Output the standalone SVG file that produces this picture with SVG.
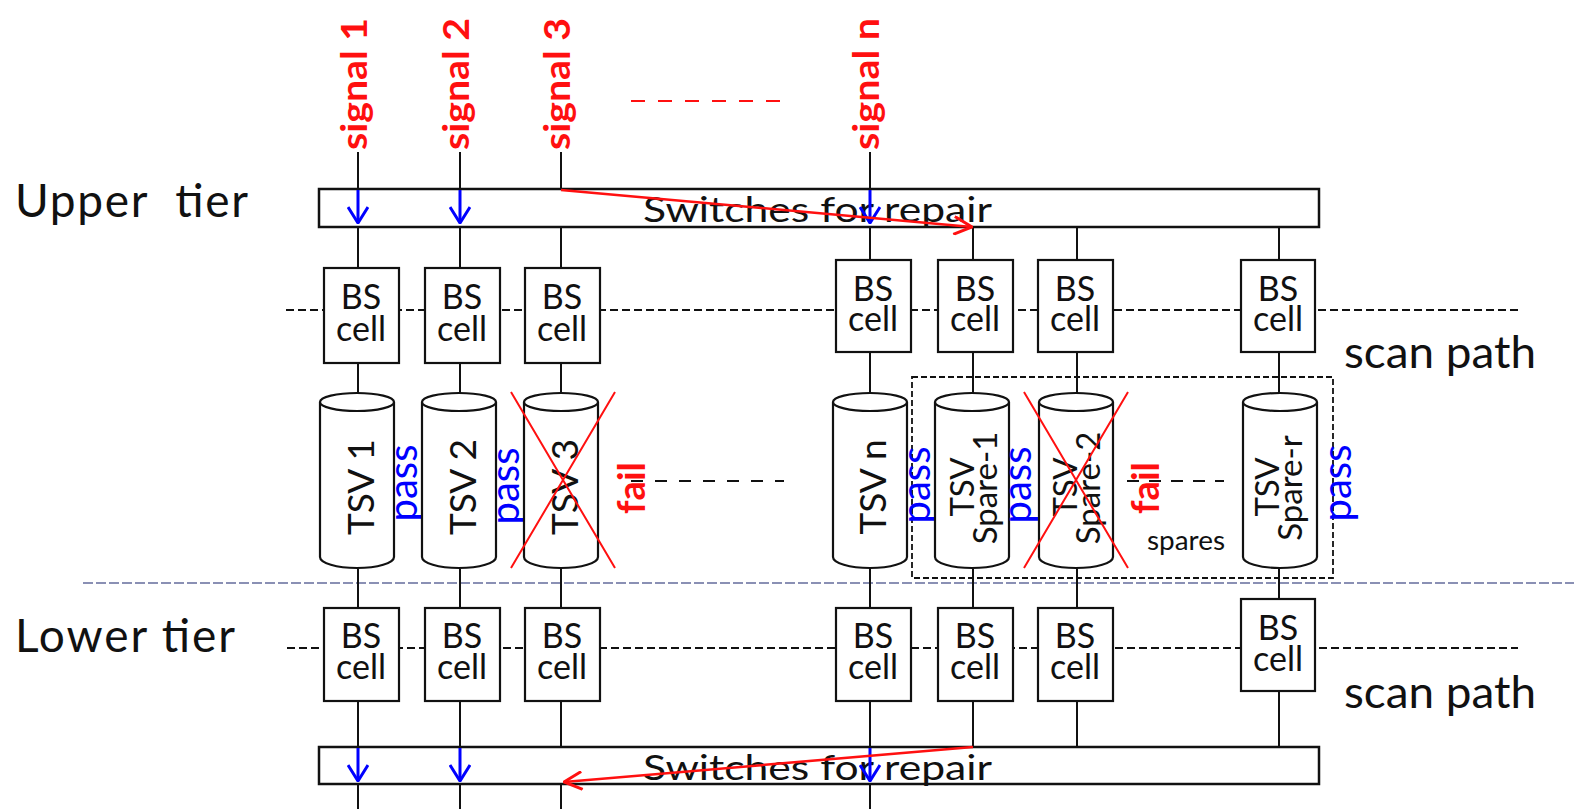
<svg xmlns="http://www.w3.org/2000/svg" width="1574" height="809" viewBox="0 0 1574 809">
<style>
text{font-family:Lato,"Open Sans","DejaVu Sans",sans-serif;fill:#111}
.box{fill:#fff;stroke:#111;stroke-width:2.5}
.cell{fill:#fff;stroke:#111;stroke-width:2.2}
.cyl{fill:#fff;stroke:#111;stroke-width:2.2}
.wire{stroke:#111;stroke-width:2;fill:none}
.scan{stroke:#111;stroke-width:2;stroke-dasharray:8 4;fill:none}
.tier{stroke:#8a90b4;stroke-width:2.2;stroke-dasharray:10 3;fill:none}
.blue{stroke:#0000ff;stroke-width:3;fill:none}
.red{stroke:#ff1010;stroke-width:2.5;fill:none}
.redx{stroke:#ff1010;stroke-width:2;fill:none}
.bs{font-size:34px;text-anchor:middle}
.tsv{font-size:37px;text-anchor:middle}
.tsv2{font-size:33px;text-anchor:middle}
.pass{font-size:40px;fill:#0000ff;text-anchor:middle}
.fail{font-size:38px;font-weight:bold;fill:#ff1010;text-anchor:middle}
.sig{font-size:37px;font-weight:bold;fill:#ff1010}
.big{font-size:46px}
.sw{font-size:34px}
</style>
<defs>
<marker id="ab" viewBox="0 0 18 22" refX="17" refY="11" markerWidth="18" markerHeight="22" markerUnits="userSpaceOnUse" orient="auto">
<path d="M1,1 L17,11 L1,21" fill="none" stroke="#0000ff" stroke-width="3"/>
</marker>
<marker id="ar" viewBox="0 0 20 20" refX="19" refY="10" markerWidth="20" markerHeight="20" markerUnits="userSpaceOnUse" orient="auto">
<path d="M1,1 L19,10 L1,19" fill="none" stroke="#ff1010" stroke-width="3"/>
</marker>
</defs>
<rect width="1574" height="809" fill="#fff"/>

<g id="labels">
<text class="big" x="15" y="217" textLength="233" xml:space="preserve">Upper  tier</text>
<text class="big" x="15" y="652" textLength="220">Lower tier</text>
<text x="1344" y="368" textLength="192" lengthAdjust="spacingAndGlyphs" style="font-size:44px">scan path</text>
<text x="1344" y="708" textLength="192" lengthAdjust="spacingAndGlyphs" style="font-size:44px">scan path</text>
<text x="1147" y="550" textLength="78" lengthAdjust="spacingAndGlyphs" style="font-size:26px">spares</text>
</g>

<g id="signals">
<text class="sig" transform="translate(367,150) rotate(-90)" textLength="132" lengthAdjust="spacingAndGlyphs">signal 1</text>
<text class="sig" transform="translate(469,150) rotate(-90)" textLength="132" lengthAdjust="spacingAndGlyphs">signal 2</text>
<text class="sig" transform="translate(570,150) rotate(-90)" textLength="132" lengthAdjust="spacingAndGlyphs">signal 3</text>
<text class="sig" transform="translate(879,150) rotate(-90)" textLength="132" lengthAdjust="spacingAndGlyphs">signal n</text>
<line x1="631" y1="101" x2="784" y2="101" stroke="#ff1010" stroke-width="2" stroke-dasharray="14 13"/>
</g>

<g id="backlines">
<line class="tier" x1="83" y1="583" x2="1574" y2="583"/>
<line class="scan" x1="286" y1="310" x2="1520" y2="310"/>
<line class="scan" x1="287" y1="648" x2="1518" y2="648"/>
<rect x="912" y="377" width="421" height="201" fill="none" stroke="#111" stroke-width="1.8" stroke-dasharray="6 3"/>
</g>

<g id="connectors">
<path class="wire" d="M358,152 V189 M460,152 V189 M561,152 V189 M870,152 V189"/>
<path class="wire" d="M358,227 V268 M460,227 V268 M561,227 V268 M870,227 V260 M973,227 V260 M1077,227 V260 M1279,227 V260"/>
<path class="wire" d="M358,363 V393 M460,363 V393 M561,363 V393 M870,352 V393 M973,352 V393 M1077,352 V393 M1279,352 V393"/>
<path class="wire" d="M358,569 V608 M460,569 V608 M561,569 V608 M870,569 V608 M973,569 V608 M1077,569 V608 M1279,569 V599"/>
<path class="wire" d="M358,701 V747 M460,701 V747 M561,701 V747 M870,701 V747 M973,701 V747 M1077,701 V747 M1279,691 V747"/>
<path class="wire" d="M358,784 V809 M460,784 V809 M561,784 V809 M870,784 V809"/>
<line x1="631" y1="481" x2="784" y2="481" stroke="#111" stroke-width="2" stroke-dasharray="12 12"/>
<line x1="1127" y1="481" x2="1224" y2="481" stroke="#111" stroke-width="2" stroke-dasharray="12 10"/>
</g>

<g id="switches-upper">
<rect class="box" x="319" y="189" width="1000" height="38"/>
<text class="sw" x="643" y="222" textLength="349" lengthAdjust="spacingAndGlyphs">Switches for repair</text>
</g>
<g id="switches-lower">
<rect class="box" x="319" y="747" width="1000" height="37"/>
<text class="sw" x="643" y="780" textLength="349" lengthAdjust="spacingAndGlyphs">Switches for repair</text>
</g>

<g id="bs-upper">
<rect class="cell" x="324" y="268" width="75" height="95"/><text class="bs" x="361" y="309">BS</text><text class="bs" x="361" y="341">cell</text>
<rect class="cell" x="425" y="268" width="75" height="95"/><text class="bs" x="462" y="309">BS</text><text class="bs" x="462" y="341">cell</text>
<rect class="cell" x="525" y="268" width="75" height="95"/><text class="bs" x="562" y="309">BS</text><text class="bs" x="562" y="341">cell</text>
<rect class="cell" x="836" y="260" width="75" height="92"/><text class="bs" x="873" y="301">BS</text><text class="bs" x="873" y="331">cell</text>
<rect class="cell" x="938" y="260" width="75" height="92"/><text class="bs" x="975" y="301">BS</text><text class="bs" x="975" y="331">cell</text>
<rect class="cell" x="1038" y="260" width="75" height="92"/><text class="bs" x="1075" y="301">BS</text><text class="bs" x="1075" y="331">cell</text>
<rect class="cell" x="1241" y="260" width="74" height="92"/><text class="bs" x="1278" y="301">BS</text><text class="bs" x="1278" y="331">cell</text>
</g>

<g id="bs-lower">
<rect class="cell" x="324" y="608" width="75" height="93"/><text class="bs" x="361" y="648">BS</text><text class="bs" x="361" y="679">cell</text>
<rect class="cell" x="425" y="608" width="75" height="93"/><text class="bs" x="462" y="648">BS</text><text class="bs" x="462" y="679">cell</text>
<rect class="cell" x="525" y="608" width="75" height="93"/><text class="bs" x="562" y="648">BS</text><text class="bs" x="562" y="679">cell</text>
<rect class="cell" x="836" y="608" width="75" height="93"/><text class="bs" x="873" y="648">BS</text><text class="bs" x="873" y="679">cell</text>
<rect class="cell" x="938" y="608" width="75" height="93"/><text class="bs" x="975" y="648">BS</text><text class="bs" x="975" y="679">cell</text>
<rect class="cell" x="1038" y="608" width="75" height="93"/><text class="bs" x="1075" y="648">BS</text><text class="bs" x="1075" y="679">cell</text>
<rect class="cell" x="1241" y="599" width="74" height="92"/><text class="bs" x="1278" y="640">BS</text><text class="bs" x="1278" y="671">cell</text>
</g>

<g id="tsv-1">
<path class="cyl" d="M320,402 V557 A37,11 0 0 0 394,557 V402"/><ellipse class="cyl" cx="357" cy="402" rx="37" ry="9"/>
<text class="tsv" transform="translate(374,487) rotate(-90)">TSV 1</text>
<text class="pass" transform="translate(417,483) rotate(-90)">pass</text>
</g>
<g id="tsv-2">
<path class="cyl" d="M422,402 V557 A37,11 0 0 0 496,557 V402"/><ellipse class="cyl" cx="459" cy="402" rx="37" ry="9"/>
<text class="tsv" transform="translate(476,487) rotate(-90)">TSV 2</text>
<text class="pass" transform="translate(519,486) rotate(-90)">pass</text>
</g>
<g id="tsv-3">
<path class="cyl" d="M524,402 V557 A37,11 0 0 0 598,557 V402"/><ellipse class="cyl" cx="561" cy="402" rx="37" ry="9"/>
<text class="tsv" transform="translate(578,487) rotate(-90)">TSV 3</text>
<path class="redx" d="M511,392 L615,568 M615,392 L511,568"/>
<text class="fail" transform="translate(645,488) rotate(-90)">fail</text>
</g>
<g id="tsv-n">
<path class="cyl" d="M833,402 V557 A37,11 0 0 0 907,557 V402"/><ellipse class="cyl" cx="870" cy="402" rx="37" ry="9"/>
<text class="tsv" transform="translate(886,487) rotate(-90)">TSV n</text>
<text class="pass" transform="translate(930,485) rotate(-90)">pass</text>
</g>
<g id="tsv-spare-1">
<path class="cyl" d="M935,402 V557 A37,11 0 0 0 1009,557 V402"/><ellipse class="cyl" cx="972" cy="402" rx="37" ry="9"/>
<text class="tsv2" transform="translate(974,487) rotate(-90)">TSV</text>
<text class="tsv2" transform="translate(997,488) rotate(-90)">Spare-1</text>
<text class="pass" transform="translate(1031,485) rotate(-90)">pass</text>
</g>
<g id="tsv-spare-2">
<path class="cyl" d="M1039,402 V557 A37,11 0 0 0 1113,557 V402"/><ellipse class="cyl" cx="1076" cy="402" rx="37" ry="9"/>
<text class="tsv2" transform="translate(1077,487) rotate(-90)">TSV</text>
<text class="tsv2" transform="translate(1100,488) rotate(-90)">Spare-2</text>
<path class="redx" d="M1024,392 L1128,568 M1128,392 L1024,568"/>
<text class="fail" transform="translate(1159,488) rotate(-90)">fail</text>
</g>
<g id="tsv-spare-r">
<path class="cyl" d="M1243,402 V557 A37,11 0 0 0 1317,557 V402"/><ellipse class="cyl" cx="1280" cy="402" rx="37" ry="9"/>
<text class="tsv2" transform="translate(1279,487) rotate(-90)">TSV</text>
<text class="tsv2" transform="translate(1302,488) rotate(-90)">Spare-r</text>
<text class="pass" transform="translate(1351,483) rotate(-90)">pass</text>
</g>

<g id="arrows">
<line class="blue" x1="358" y1="190" x2="358" y2="223" marker-end="url(#ab)"/>
<line class="blue" x1="460" y1="190" x2="460" y2="223" marker-end="url(#ab)"/>
<line class="blue" x1="870" y1="190" x2="870" y2="223" marker-end="url(#ab)"/>
<line class="blue" x1="358" y1="748" x2="358" y2="781" marker-end="url(#ab)"/>
<line class="blue" x1="460" y1="748" x2="460" y2="781" marker-end="url(#ab)"/>
<line class="blue" x1="870" y1="748" x2="870" y2="781" marker-end="url(#ab)"/>
<line class="red" x1="561" y1="190" x2="972" y2="227" marker-end="url(#ar)"/>
<line class="red" x1="973" y1="747" x2="564" y2="782" marker-end="url(#ar)"/>
</g>
</svg>
